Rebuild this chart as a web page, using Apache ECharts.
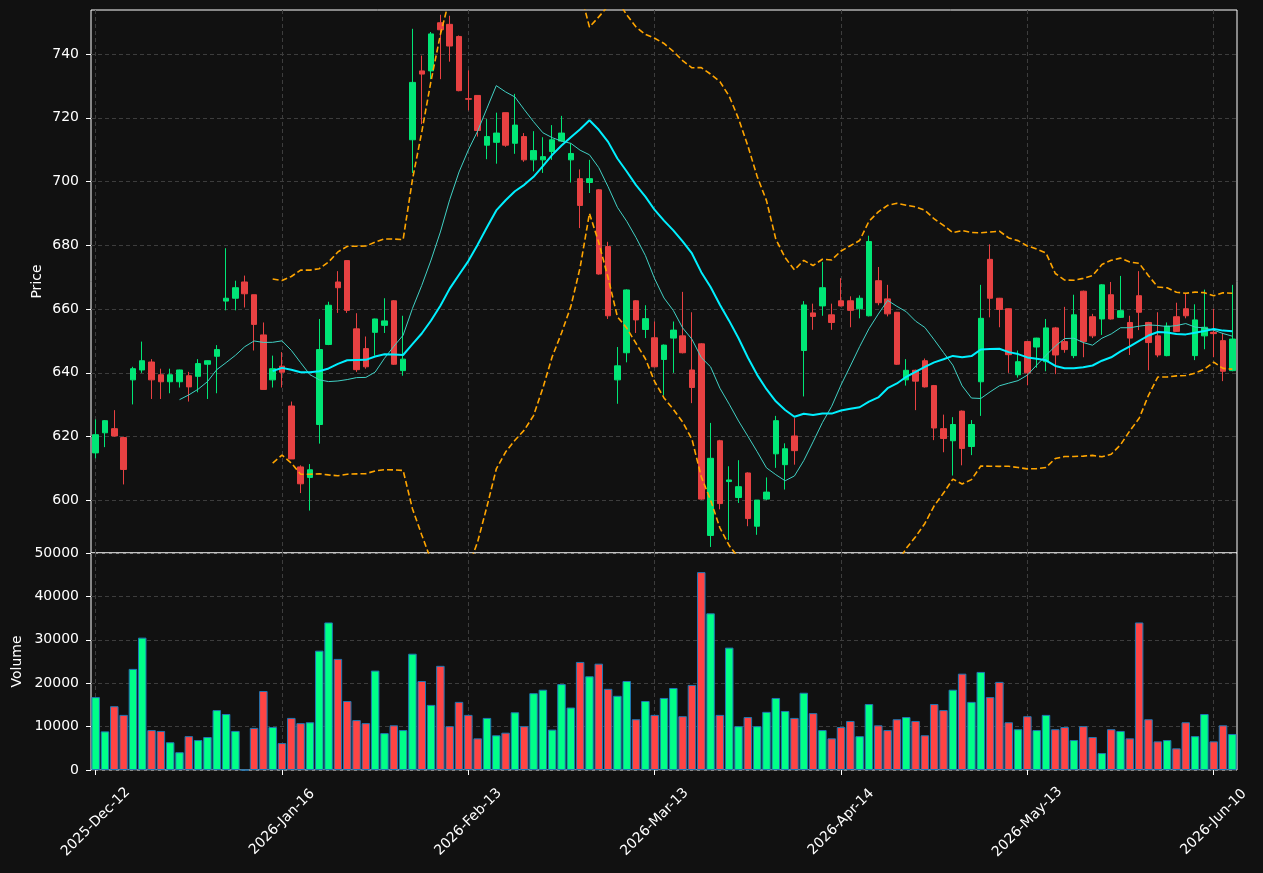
<!DOCTYPE html>
<html>
<head>
    <meta charset="utf-8">
    <title>Price / Volume</title>
    <script src="https://cdn.jsdelivr.net/npm/echarts@6.0.0/dist/echarts.min.js"></script>
    <style>
        html, body { margin: 0; padding: 0; background: #111111; }
        #main { width: 1263px; height: 873px; }
    </style>
</head>
<body>
<div id="main"></div>
<script type="text/javascript">

    // tick labels on the date axis (one every 20 bars)
    var tickLabels = ['2025-Dec-12', '2026-Jan-16', '2026-Feb-13', '2026-Mar-13', '2026-Apr-14', '2026-May-13', '2026-Jun-10'];

    var opens = [614.9, 621.2, 622.5, 619.7, 637.8, 640.9, 643.4, 639.4, 637.2, 637.2,
        639.1, 638.9, 642.7, 645.2, 662.5, 663.4, 668.5, 664.5, 651.9, 637.8,
        642.1, 629.6, 610.5, 607.2, 623.8, 648.9, 668.5, 675.2, 653.8, 647.6,
        652.7, 654.9, 662.6, 640.7, 713.1, 734.7, 734.7, 749.8, 749.3, 745.5,
        726.0, 727.0, 711.4, 712.3, 721.6, 712.0, 714.1, 706.8, 706.8, 709.4,
        712.7, 706.8, 700.9, 699.7, 697.4, 679.6, 637.8, 646.3, 662.6, 653.6,
        651.0, 644.2, 650.9, 651.6, 640.9, 649.1, 589.0, 618.7, 605.9, 600.9,
        608.6, 591.9, 600.4, 614.6, 611.2, 620.2, 647.0, 658.8, 661.0, 658.2,
        662.6, 662.6, 660.1, 657.9, 668.9, 663.2, 659.0, 637.8, 640.8, 643.8,
        636.0, 622.5, 618.7, 628.0, 616.9, 637.2, 675.6, 663.4, 660.1, 639.4,
        649.8, 648.1, 643.5, 654.1, 649.8, 645.4, 665.6, 657.6, 656.9, 664.5,
        657.4, 655.8, 664.2, 655.8, 651.6, 645.4, 657.6, 660.1, 645.4, 651.6,
        652.7, 650.1, 640.7];

    var closes = [620.6, 625.0, 620.2, 609.7, 641.3, 643.8, 637.8, 637.2, 639.4, 640.9,
        635.6, 642.9, 643.8, 647.3, 663.4, 666.7, 664.8, 655.2, 634.8, 641.3,
        640.2, 613.0, 605.2, 609.6, 647.3, 661.2, 666.7, 659.6, 641.0, 641.9,
        656.9, 656.3, 642.7, 644.3, 731.1, 733.7, 746.3, 747.6, 742.5, 728.5,
        725.8, 716.0, 714.1, 715.2, 711.4, 717.7, 706.8, 709.7, 707.8, 713.1,
        715.2, 708.8, 692.5, 700.9, 671.0, 657.9, 642.2, 666.0, 656.6, 657.0,
        641.9, 648.7, 653.4, 646.3, 635.4, 600.4, 613.2, 599.0, 606.4, 604.3,
        594.3, 600.1, 602.6, 625.0, 616.2, 615.6, 661.3, 657.7, 666.7, 655.8,
        661.0, 659.6, 663.4, 681.2, 662.0, 658.5, 642.7, 640.8, 637.4, 635.6,
        622.7, 619.4, 623.8, 616.3, 623.8, 657.1, 663.4, 659.9, 645.7, 643.5,
        640.0, 650.9, 654.1, 645.6, 647.3, 658.2, 649.8, 651.6, 667.6, 656.9,
        659.5, 650.9, 659.0, 649.5, 645.6, 654.7, 653.0, 657.9, 656.6, 654.3,
        652.3, 640.5, 650.6];

    var highs = [625.4, 625.2, 628.3, 620.0, 641.9, 649.8, 644.3, 641.3, 641.3, 641.0,
        640.3, 644.3, 643.9, 648.7, 679.1, 668.9, 670.5, 664.5, 655.8, 645.4,
        646.5, 631.0, 611.0, 611.4, 656.9, 662.3, 671.9, 675.2, 658.7, 651.4,
        657.0, 663.4, 662.8, 657.9, 747.9, 739.5, 746.9, 752.3, 752.0, 745.8,
        734.9, 727.0, 719.6, 721.6, 721.6, 727.5, 715.2, 715.8, 713.9, 717.7,
        720.6, 712.0, 703.8, 706.8, 697.6, 681.1, 648.1, 666.2, 662.8, 661.2,
        656.1, 648.9, 656.1, 665.4, 659.0, 649.3, 624.3, 619.0, 610.7, 612.6,
        608.8, 600.1, 607.2, 626.5, 617.9, 625.8, 662.5, 661.7, 674.8, 661.7,
        669.7, 664.0, 664.3, 683.0, 673.2, 667.6, 659.1, 644.3, 641.0, 644.5,
        636.2, 626.9, 626.1, 628.2, 625.2, 667.6, 680.3, 663.5, 660.2, 647.0,
        650.0, 651.0, 656.9, 654.4, 660.7, 664.5, 665.8, 658.5, 667.8, 668.5,
        670.4, 657.9, 671.9, 656.0, 659.0, 655.8, 662.0, 665.0, 661.5, 666.1,
        660.1, 652.5, 667.6];

    var lows = [613.2, 616.7, 620.0, 605.0, 630.1, 640.0, 631.8, 631.8, 633.6, 635.4,
        631.0, 633.9, 631.8, 633.6, 659.6, 659.6, 660.5, 647.0, 634.8, 635.4,
        635.4, 613.0, 602.3, 596.8, 617.8, 648.7, 658.8, 658.8, 640.3, 641.3,
        645.4, 652.5, 642.5, 639.1, 702.7, 718.0, 732.1, 732.1, 737.6, 728.3,
        722.3, 714.1, 707.0, 705.6, 710.9, 708.7, 706.2, 703.2, 702.7, 706.8,
        712.5, 699.7, 685.4, 696.4, 670.8, 656.9, 630.3, 643.3, 652.5, 650.9,
        641.7, 632.9, 640.0, 646.1, 630.5, 600.2, 585.4, 597.2, 587.6, 599.2,
        591.9, 589.2, 600.1, 610.2, 603.4, 611.2, 632.6, 653.5, 657.9, 653.5,
        660.8, 654.3, 657.1, 657.7, 661.2, 657.7, 642.5, 636.0, 628.3, 635.4,
        618.9, 615.1, 607.8, 611.0, 614.2, 626.5, 657.4, 654.3, 640.0, 638.5,
        636.1, 641.6, 640.5, 639.6, 646.3, 644.6, 644.9, 650.9, 651.9, 656.7,
        657.2, 645.6, 653.4, 640.8, 644.9, 645.2, 652.8, 657.1, 644.0, 647.4,
        644.9, 637.4, 640.5];

    var volumes = [16800, 8900, 14700, 12700, 23300, 30500, 9200, 9000, 6400, 4100,
        7800, 6900, 7600, 13800, 12900, 9000, 0, 9700, 18200, 9900,
        6200, 12000, 10800, 11000, 27500, 34000, 25600, 15900, 11500, 10800,
        22900, 8500, 10300, 9200, 26800, 20500, 15000, 24000, 10100, 15700,
        12700, 7300, 12000, 8000, 8600, 13300, 10100, 17700, 18500, 9300,
        19800, 14400, 24900, 21600, 24500, 18700, 17100, 20500, 11700, 15900,
        12700, 16600, 18900, 12400, 19600, 45600, 36100, 12700, 28200, 10100,
        12200, 10100, 13400, 16600, 13600, 12000, 17800, 13100, 9200, 7300,
        9900, 11300, 7800, 15200, 10300, 9200, 11700, 12200, 11300, 8000,
        15200, 13800, 18500, 22200, 15700, 22600, 16800, 20300, 11000, 9400,
        12400, 9200, 12700, 9400, 9900, 6900, 10100, 7600, 3900, 9400,
        9000, 7300, 34000, 11700, 6600, 6900, 5000, 11000, 7800, 12900,
        6600, 10300, 8300];

    var upColor = '#00e676', downColor = '#e84142';
    var volUp = '#00ff88', volDown = '#ff4444';
    var font = 'DejaVu Sans';
    var gridLine = { show: true, lineStyle: { color: '#3d3d3d', type: [4, 3], width: 1 } };

    // rolling stats on the close
    function rolling(n, fn) {
        return closes.map(function (c, i) {
            return i < n - 1 ? null : fn(closes.slice(i - n + 1, i + 1));
        });
    }
    function mean(a) { return a.reduce(function (s, v) { return s + v; }, 0) / a.length; }
    function std(a) {
        var m = mean(a);
        return Math.sqrt(a.reduce(function (s, v) { return s + (v - m) * (v - m); }, 0) / a.length);
    }
    var ma10 = rolling(10, mean);
    var ma20 = rolling(20, mean);
    var upper = rolling(20, function (a) { return mean(a) + 2 * std(a); });
    var lower = rolling(20, function (a) { return mean(a) - 2 * std(a); });

    var cats = closes.map(function (c, i) { return i; });
    var candles = opens.map(function (o, i) { return [o, closes[i], lows[i], highs[i]]; });
    var volData = volumes.map(function (v, i) {
        return { value: v, itemStyle: { color: closes[i] >= opens[i] ? volUp : volDown } };
    });

    var myChart = echarts.init(document.getElementById('main'));
    var option = {
        backgroundColor: '#111111',
        animation: false,
        textStyle: { fontFamily: font },
        grid: [
            { left: 91, right: 26, top: 10, height: 543, show: true, borderColor: '#ffffff', borderWidth: 1, backgroundColor: '#111111' },
            { left: 91, right: 26, top: 553, height: 217, show: true, borderColor: '#ffffff', borderWidth: 1, backgroundColor: '#111111' }
        ],
        xAxis: [
            {
                type: 'category', gridIndex: 0, data: cats, boundaryGap: true,
                axisLine: { show: false }, axisTick: { show: false }, axisLabel: { show: false },
                splitLine: { show: true, interval: 19, alignWithLabel: true, lineStyle: gridLine.lineStyle }
            },
            {
                type: 'category', gridIndex: 1, data: cats, boundaryGap: true,
                axisLine: { show: false },
                axisTick: { show: true, interval: 19, alignWithLabel: true, length: 5, lineStyle: { color: '#ffffff' } },
                axisLabel: {
                    interval: 19, rotate: 45, color: '#ffffff', fontSize: 14, fontFamily: font,
                    align: 'center', verticalAlign: 'middle', margin: 52,
                    formatter: function (v, i) { return i % 20 === 0 ? tickLabels[i / 20] : ''; }
                },
                splitLine: { show: true, interval: 19, alignWithLabel: true, lineStyle: gridLine.lineStyle }
            }
        ],
        yAxis: [
            {
                type: 'value', gridIndex: 0, min: 583.5, max: 753.8, splitNumber: 8,
                name: 'Price', nameLocation: 'middle', nameGap: 47, nameMoveOverlap: false,
                nameTextStyle: { color: '#ffffff', fontSize: 14, fontFamily: font },
                axisLine: { show: false },
                axisTick: { show: true, length: 5, lineStyle: { color: '#ffffff' }, customValues: [600, 620, 640, 660, 680, 700, 720, 740] },
                axisLabel: { color: '#ffffff', fontSize: 14, fontFamily: font, margin: 12, customValues: [600, 620, 640, 660, 680, 700, 720, 740] },
                splitLine: gridLine
            },
            {
                type: 'value', gridIndex: 1, min: 0, max: 50000, interval: 10000,
                name: 'Volume', nameLocation: 'middle', nameGap: 67, nameMoveOverlap: false,
                nameTextStyle: { color: '#ffffff', fontSize: 14, fontFamily: font },
                axisLine: { show: false },
                axisTick: { show: true, length: 5, lineStyle: { color: '#ffffff' } },
                axisLabel: {
                    color: '#ffffff', fontSize: 14, fontFamily: font, margin: 12,
                    formatter: function (v) { return String(v); }
                },
                splitLine: gridLine
            }
        ],
        series: [
            {
                name: 'Price', type: 'candlestick', xAxisIndex: 0, yAxisIndex: 0,
                data: candles, barWidth: 6,
                itemStyle: { color: upColor, color0: downColor, borderColor: upColor, borderColor0: downColor, borderWidth: 1 }
            },
            {
                name: 'MA10', type: 'line', xAxisIndex: 0, yAxisIndex: 0, data: ma10,
                symbol: 'none', lineStyle: { color: '#40d0c4', width: 1 }, z: 3
            },
            {
                name: 'MA20', type: 'line', xAxisIndex: 0, yAxisIndex: 0, data: ma20,
                symbol: 'none', lineStyle: { color: '#00f0ff', width: 2 }, z: 3
            },
            {
                name: 'Upper', type: 'line', xAxisIndex: 0, yAxisIndex: 0, data: upper,
                symbol: 'none', lineStyle: { color: '#ffa500', width: 1.6, type: [6, 3] }, z: 3
            },
            {
                name: 'Lower', type: 'line', xAxisIndex: 0, yAxisIndex: 0, data: lower,
                symbol: 'none', lineStyle: { color: '#ffa500', width: 1.6, type: [6, 3] }, z: 3
            },
            {
                name: 'Volume', type: 'bar', xAxisIndex: 1, yAxisIndex: 1,
                data: volData, barWidth: 8.5,
                itemStyle: { borderColor: '#1f77b4', borderWidth: 1 }
            }
        ]
    };
    myChart.setOption(option);

</script>
</body>
</html>
